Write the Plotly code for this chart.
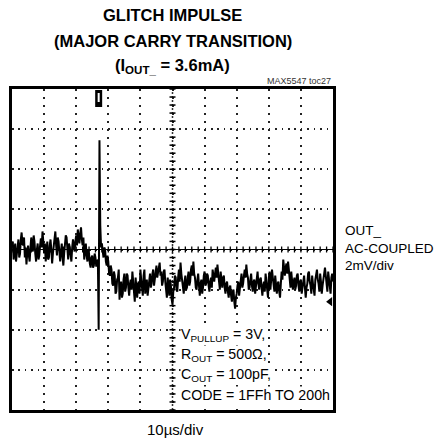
import plotly.graph_objects as go

# ---------------- data ----------------
sample_step_us = 0.25         # time between samples
trace_mv = [
    # 0 .. 26.5 us  (before the transition)
    0.1, 0.4, -0.5, -0.1, 0.3, -0.6, -0.3, 0.2, 0.5, -0.4,
    -0.2, 0.5, 0.85, 0.3, 0.2, 0.6, -0.4, 0.1, -0.75, -0.2,
    0.2, -0.3, -0.6, 0.1, 0.6, 0.2, -0.1, 0.7, 0.4, -0.2,
    -0.6, 0.0, 0.3, -0.5, -0.3, 0.2, 0.55, 0.1, 0.9, 0.4,
    -0.2, 0.3, -0.6, -0.1, 0.4, -0.5, -0.4, 0.2, 0.5, 0.0,
    -0.7, -0.2, 0.3, 0.6, 0.9, 0.2, -0.3, 0.6, 0.4, -0.1,
    -0.6, -0.1, 0.3, -0.4, -0.8, -0.2, 0.2, 0.7, 0.6, 0.0,
    -0.5, 0.3, 0.1, -0.3, -0.6, 0.1, 0.5, 0.2, -0.1, 0.4,
    0.7, 0.2, 1.0, 0.6, 0.3, 0.8, 1.1, 0.5, 0.2, 0.6,
    -0.5, -0.1, 0.3, -0.3, -0.6, 0.0, -0.2, -0.7, -0.9, -0.4,
    -0.3, -0.9, -0.8, -0.2, -0.4, -0.85, -0.7,
    # 26.75 .. 32.75 us  (glitch and settling)
    -0.5, -4.0, 5.45, 1.2, 0.1, 0.3, -0.3, -0.4, 0.1, 0.0,
    -0.6, -0.8, -0.3, -0.6, -1.2, -1.3, -0.8, -1.0, -1.7, -1.8,
    -1.1, -1.3, -2.2, -2.1, -1.5,
    # 33.0 .. 100 us  (after the transition)
    -1.4, -1.0, -2.5, -1.8, -1.6, -2.4, -2.2, -1.5, -1.2, -2.1,
    -1.9, -1.2, -1.3, -1.9, -2.3, -1.7, -1.5, -2.0, -1.1, -1.6,
    -2.0, -2.6, -1.4, -1.9, -2.4, -1.7, -1.6, -2.2, -1.0, -1.5,
    -1.9, -2.3, -1.3, -1.0, -2.2, -1.8, -1.5, -2.3, -2.0, -1.5,
    -1.2, -1.9, -1.7, -1.2, -1.0, -1.8, -1.5, -1.0, -0.8, -1.4,
    -1.2, -0.9, -0.65, -1.3, -1.1, -1.8, -1.6, -1.1, -1.0, -1.6,
    -1.9, -2.4, -1.4, -1.9, -2.3, -1.5, -1.8, -2.5, -2.75, -2.1,
    -1.9, -1.3, -1.4, -2.0, -2.1, -1.4, -1.0, -1.6, -0.65, -1.2,
    -1.5, -1.9, -2.2, -1.6, -1.3, -2.0, -1.9, -1.4, -1.1, -1.8,
    -1.6, -1.0, -0.8, -1.3, -0.6, -1.2, -1.4, -1.9, -2.0, -1.5,
    -1.2, -1.8, -2.3, -1.7, -1.5, -2.2, -1.9, -1.3, -1.1, -1.8,
    -1.7, -1.2, -1.3, -1.8, -2.1, -1.6, -1.4, -1.9, -1.0, -1.3,
    -1.6, -1.2, -0.9, -1.4, -0.75, -1.2, -1.5, -2.0, -1.1, -1.6,
    -1.9, -1.4, -1.3, -1.9, -2.2, -1.7, -1.6, -2.1, -2.4, -1.9,
    -1.8, -2.3, -2.6, -2.1, -2.0, -2.6, -2.95, -2.4, -2.2, -1.8,
    -1.6, -2.3, -2.0, -1.5, -1.2, -1.9, -1.7, -1.3, -1.0, -1.4,
    -0.75, -1.2, -1.4, -2.0, -1.9, -1.5, -1.2, -1.8, -2.1, -1.6,
    -1.5, -2.2, -1.8, -1.3, -1.1, -1.7, -2.0, -1.5, -1.4, -1.9,
    -2.3, -1.8, -1.6, -2.1, -1.2, -1.6, -1.9, -2.4, -1.4, -1.1,
    -2.0, -1.5, -1.0, -1.4, -1.7, -2.1, -1.3, -1.8, -2.2, -1.7,
    -1.6, -2.1, -2.4, -1.7, -1.1, -1.5, -0.5, -0.9, -1.3, -0.9,
    -0.7, -1.2, -0.6, -1.0, -1.5, -1.9, -1.1, -1.6, -2.0, -1.6,
    -1.4, -2.0, -1.8, -1.3, -1.2, -1.8, -2.1, -1.6, -1.5, -2.2,
    -1.9, -1.4, -1.3, -1.9, -2.4, -1.9, -1.7, -1.2, -1.1, -1.6,
    -1.8, -2.2, -1.3, -1.7, -2.0, -2.3, -1.5, -1.1, -1.0, -1.5,
    -1.7, -2.1, -1.2, -1.6, -2.2, -1.8, -1.5, -1.1, -0.9, -1.3,
    -1.6, -2.1, -1.1, -1.5, -1.9, -2.2, -1.4, -1.2, -1.6,
]
time_us = [i * sample_step_us for i in range(len(trace_mv))]

trigger_time_us = 27.0        # trigger marker on top edge
ground_level_mv = -2.6        # channel marker on right edge

x_range_us = [0, 100]         # 10 us/div, 10 divisions
y_range_mv = [-8, 8]          # 2 mV/div, 8 divisions
x_div_us = 10
y_div_mv = 2

title_lines = ["GLITCH IMPULSE", "(MAJOR CARRY TRANSITION)",
               "(I<sub>OUT_</sub> = 3.6mA)"]
cond_lines = ["V<sub>PULLUP</sub> = 3V,", "R<sub>OUT</sub> = 500Ω,",
              "C<sub>OUT</sub> = 100pF,", "CODE = 1FFh TO 200h"]
side_label = "OUT_<br>AC-COUPLED<br>2mV/div"
x_label = "10µs/div"
tag = "MAX5547 toc27"

# ---------------- figure ----------------
FONT = "Liberation Sans Narrow, Arial Narrow, Liberation Sans, Arial, sans-serif"

fig = go.Figure()
fig.add_trace(go.Scatter(
    x=time_us, y=trace_mv, mode="lines",
    line=dict(color="black", width=2.0), hoverinfo="skip", showlegend=False))

# ground reference marker
fig.add_trace(go.Scatter(
    x=[x_range_us[1] - 0.9], y=[ground_level_mv], mode="markers",
    marker=dict(symbol="triangle-left", size=8, color="black"),
    cliponaxis=False, hoverinfo="skip", showlegend=False))

shapes = []
xc = (x_range_us[0] + x_range_us[1]) / 2
yc = (y_range_mv[0] + y_range_mv[1]) / 2
# centre lines
shapes.append(dict(type="line", xref="x", yref="y", x0=x_range_us[0], x1=x_range_us[1],
                   y0=yc, y1=yc, line=dict(color="black", width=1), layer="between"))
shapes.append(dict(type="line", xref="x", yref="y", x0=xc, x1=xc,
                   y0=y_range_mv[0], y1=y_range_mv[1],
                   line=dict(color="#333", width=1.5, dash="2px,2px"), layer="between"))
# minor ticks on centre lines (5 per division)
n_xt = int((x_range_us[1] - x_range_us[0]) / x_div_us * 5)
for k in range(n_xt + 1):
    xv = x_range_us[0] + k * x_div_us / 5
    shapes.append(dict(type="line", xref="x", yref="y", ysizemode="pixel", yanchor=yc,
                       x0=xv, x1=xv, y0=-3, y1=3,
                       line=dict(color="black", width=1.3), layer="between"))
n_yt = int((y_range_mv[1] - y_range_mv[0]) / y_div_mv * 5)
for k in range(n_yt + 1):
    yv = y_range_mv[0] + k * y_div_mv / 5
    shapes.append(dict(type="line", xref="x", yref="y", xsizemode="pixel", xanchor=xc,
                       x0=-3, x1=3, y0=yv, y1=yv,
                       line=dict(color="black", width=1.5), layer="between"))
# trigger marker
shapes.append(dict(type="rect", xref="x", yref="paper", xsizemode="pixel", ysizemode="pixel",
                   xanchor=trigger_time_us, yanchor=1, x0=-3.5, x1=3.5, y0=-18, y1=-1,
                   fillcolor="black", line=dict(width=0), layer="above"))
shapes.append(dict(type="rect", xref="x", yref="paper", xsizemode="pixel", ysizemode="pixel",
                   xanchor=trigger_time_us, yanchor=1, x0=-1, x1=1, y0=-13, y1=-4,
                   fillcolor="white", line=dict(width=0), layer="above"))

annotations = []
title_y = [1.2305, 1.1495, 1.0717]
for t, yy in zip(title_lines, title_y):
    annotations.append(dict(text="<b>" + t + "</b>", xref="paper", yref="paper",
                            x=0.5, y=yy, xanchor="center", yanchor="middle", showarrow=False,
                            font=dict(family=FONT, size=16.5, color="black")))
annotations.append(dict(text=tag, xref="paper", yref="paper", x=1.0, y=1.025,
                        xanchor="right", yanchor="middle", showarrow=False,
                        font=dict(family=FONT, size=9, color="#333")))
annotations.append(dict(text=side_label, xref="paper", yref="paper", x=1.031, y=0.505,
                        xanchor="left", yanchor="middle", align="left", showarrow=False,
                        font=dict(family=FONT, size=13.5, color="black")))
annotations.append(dict(text=x_label, xref="paper", yref="paper", x=0.508, y=-0.062,
                        xanchor="center", yanchor="middle", showarrow=False,
                        font=dict(family=FONT, size=15, color="black")))
cond_y = [0.2336, 0.1713, 0.1090, 0.0467]
for t, yy in zip(cond_lines, cond_y):
    annotations.append(dict(text=t, xref="paper", yref="paper", x=0.522, y=yy,
                            xanchor="left", yanchor="middle", align="left", showarrow=False,
                            bgcolor="white", borderpad=0,
                            font=dict(family=FONT, size=14.2, color="black")))

fig.update_layout(
    width=447, height=441,
    margin=dict(l=12, r=114, t=89, b=31),
    paper_bgcolor="white", plot_bgcolor="white",
    shapes=shapes, annotations=annotations, showlegend=False,
    xaxis=dict(range=x_range_us, dtick=x_div_us, tick0=0, showticklabels=False, ticks="",
               showgrid=True, gridcolor="#222", gridwidth=1.6, griddash="1.6px,6.4px",
               zeroline=False, showline=True, linecolor="black", linewidth=3, mirror=True,
               fixedrange=True),
    yaxis=dict(range=y_range_mv, dtick=y_div_mv, tick0=0, showticklabels=False, ticks="",
               showgrid=True, gridcolor="#222", gridwidth=1.6, griddash="1.6px,4.82px",
               zeroline=False, showline=True, linecolor="black", linewidth=3, mirror=True,
               fixedrange=True),
)

fig.write_html("out.html", config={"displayModeBar": False},
               post_script="document.body.style.margin='0';document.body.style.overflow='hidden';")
